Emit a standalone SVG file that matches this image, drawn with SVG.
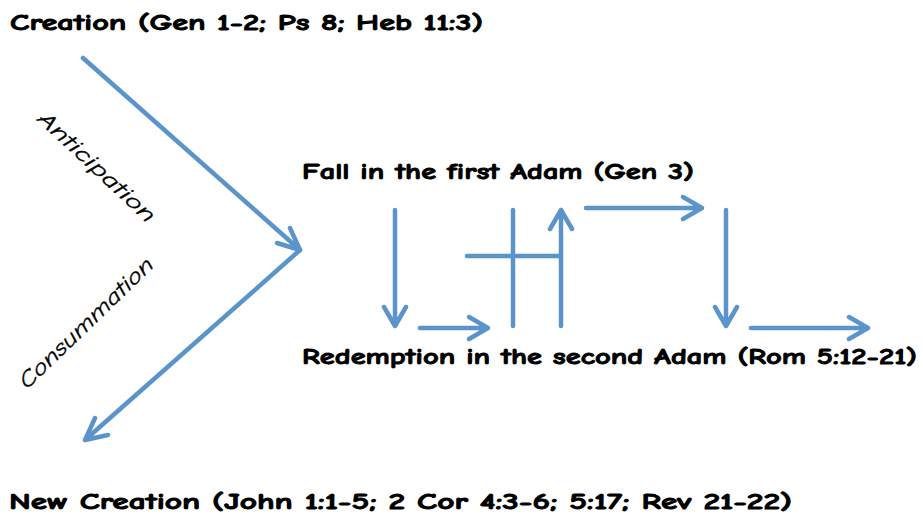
<svg xmlns="http://www.w3.org/2000/svg" width="923" height="519" viewBox="0 0 923 519">
<style>
.t{font-family:"Comic Sans MS","Comic Neue","DejaVu Sans",sans-serif;font-weight:bold;font-size:23px;fill:#000;stroke:#000;stroke-width:0.9}
.r{font-family:"Comic Sans MS","Comic Neue","DejaVu Sans",sans-serif;font-style:italic;font-size:22px;fill:#000;stroke:#000;stroke-width:0.3}
.c{stroke:#5b94cb;stroke-width:4.5;fill:none;stroke-linecap:round;stroke-linejoin:round}
</style>
<rect width="923" height="519" fill="#fff"/>
<g id="creation"><text class="t" x="10" y="30" textLength="473" lengthAdjust="spacingAndGlyphs">Creation (Gen 1-2; Ps 8; Heb 11:3)</text></g>
<g id="fall"><text class="t" x="302" y="179" textLength="392" lengthAdjust="spacingAndGlyphs">Fall in the first Adam (Gen 3)</text></g>
<g id="redemption"><text class="t" x="302" y="364" textLength="615" lengthAdjust="spacingAndGlyphs">Redemption in the second Adam (Rom 5:12-21)</text></g>
<g id="newcreation"><text class="t" x="9" y="509" textLength="783" lengthAdjust="spacingAndGlyphs">New Creation (John 1:1-5; 2 Cor 4:3-6; 5:17; Rev 21-22)</text></g>
<g id="anticipation"><text class="r" transform="translate(92,172) rotate(43)" text-anchor="middle" textLength="152" lengthAdjust="spacingAndGlyphs">Anticipation</text></g>
<g id="consummation"><text class="r" transform="translate(91,328) rotate(-44)" text-anchor="middle" textLength="178" lengthAdjust="spacingAndGlyphs">Consummation</text></g>
<g id="connectors" class="c">
<path d="M83,58 L300,250 M277,243 L300,250 L290,228"/>
<path d="M300,250 L85,440 M108,435 L85,440 L95,418"/>
<path d="M395,210 L395,326 M384,307 L395,326 L406,307"/>
<path d="M420,328 L488,328 M469,317 L488,328 L469,339"/>
<path d="M513,210 L513,326"/>
<path d="M467,256 L560,256"/>
<path d="M561,326 L561,210 M550,229 L561,210 L572,229"/>
<path d="M586,208 L702,208 M683,197 L702,208 L683,219"/>
<path d="M726,210 L726,326 M715,307 L726,326 L737,307"/>
<path d="M751,328 L868,328 M849,317 L868,328 L849,339"/>
</g>
</svg>
